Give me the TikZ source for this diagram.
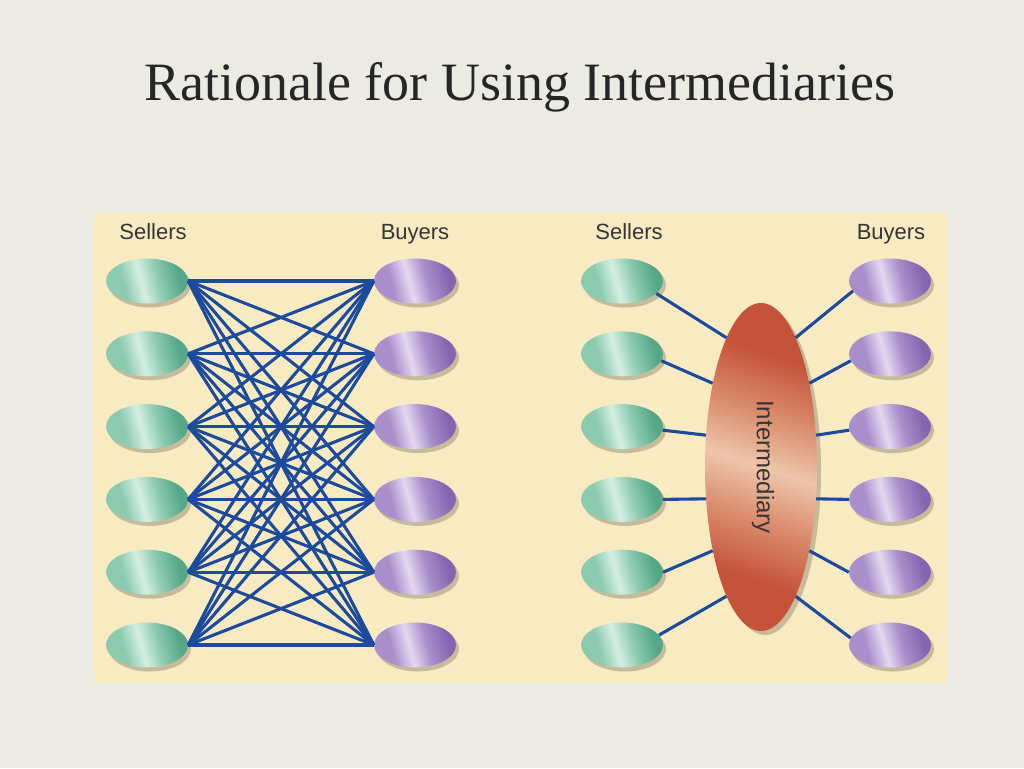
\documentclass[tikz,border=0pt]{standalone}
\usepackage{fontspec}
\setmainfont{Liberation Serif}
\setsansfont{Liberation Sans}
\usetikzlibrary{shapes.geometric,shadows}
\definecolor{bg}{HTML}{EBEBE4}
\definecolor{panel}{HTML}{F8EBC2}
\definecolor{linkc}{HTML}{1C4A9C}
\definecolor{txt}{HTML}{353535}
\definecolor{sgD}{HTML}{56A689}
\definecolor{sgL}{HTML}{D4EEE2}
\definecolor{sgM}{HTML}{8CCBB0}
\definecolor{bpD}{HTML}{8466B0}
\definecolor{bpL}{HTML}{E4D8F0}
\definecolor{bpM}{HTML}{A98FCB}
\definecolor{imD}{HTML}{C5533A}
\definecolor{imL}{HTML}{EEC6AC}
\definecolor{imM}{HTML}{DB8F70}
\pgfdeclarehorizontalshading{sellershade}{100bp}{color(0bp)=(sgD); color(22bp)=(sgM); color(34bp)=(sgM); color(46bp)=(sgL); color(58bp)=(sgM); color(72bp)=(sgD); color(100bp)=(sgD)}
\pgfdeclarehorizontalshading{buyershade}{100bp}{color(0bp)=(bpD); color(22bp)=(bpM); color(34bp)=(bpM); color(46bp)=(bpL); color(58bp)=(bpM); color(72bp)=(bpD); color(100bp)=(bpD)}
\pgfdeclarehorizontalshading{intershade}{100bp}{color(0bp)=(imD); color(30bp)=(imD); color(41bp)=(imM); color(50bp)=(imL); color(59bp)=(imM); color(70bp)=(imD); color(100bp)=(imD)}
\tikzset{
  oval/.style={ellipse, minimum width=82pt, minimum height=45pt, inner sep=0pt,
    shading angle=15, drop shadow={shadow xshift=3pt, shadow yshift=-4pt, fill=black, opacity=0.2}},
  seller/.style={oval, shading=sellershade},
  buyer/.style={oval, shading=buyershade},
  inter/.style={ellipse, minimum width=112pt, minimum height=328pt, inner sep=0pt,
    shading=intershade, shading angle=72, drop shadow={shadow xshift=4pt, shadow yshift=-4pt, fill=black, opacity=0.2}},
  linkline/.style={draw=linkc, line width=3.1pt},
  head/.style={font=\sffamily\fontsize{22}{26}\selectfont, text=txt, anchor=base},
}
\begin{document}
\begin{tikzpicture}[x=1pt,y=-1pt]
\useasboundingbox (0,0) rectangle (1024,768);
\fill[bg] (0,0) rectangle (1024,768);
\node[font=\fontsize{54}{60}\selectfont, text=black!85, anchor=base] (title) at (520,100) {Rationale for Using Intermediaries};
\fill[panel] (93,213) rectangle (948,683);
\node[head] (ls) at (153,239) {Sellers};
\node[head] (lb) at (415,239) {Buyers};
\node[head] (rs) at (629,239) {Sellers};
\node[head] (rb) at (891,239) {Buyers};
\foreach \i/\y in {1/281,2/353.8,3/426.6,4/499.4,5/572.2,6/645}{
  \node[seller] (LS\i) at (147,\y) {};
  \node[buyer] (LB\i) at (415,\y) {};
  \node[seller] (RS\i) at (622,\y) {};
  \node[buyer] (RB\i) at (890,\y) {};
}
\node[inter] (I) at (761,467) {};
\node[font=\sffamily\fontsize{24}{28}\selectfont, text=txt, rotate=-90] (il) at (763,467) {Intermediary};
\foreach \i in {1,...,6}{
  \foreach \j in {1,...,6}{
    \draw[linkline] (LS\i.east) -- (LB\j.west);
  }
}
\foreach \i/\a/\s in {1/105/-20, 2/120/-10, 3/150/-5, 4/210/0, 5/240/0, 6/255/15}{
  \draw[linkline] (RS\i.\s) -- (I.\a);
}
\foreach \i/\a/\b in {1/75/195, 2/60/190, 3/30/185, 4/-30/180, 5/-60/180, 6/-75/170}{
  \draw[linkline] (I.\a) -- (RB\i.\b);
}
\end{tikzpicture}
\end{document}
